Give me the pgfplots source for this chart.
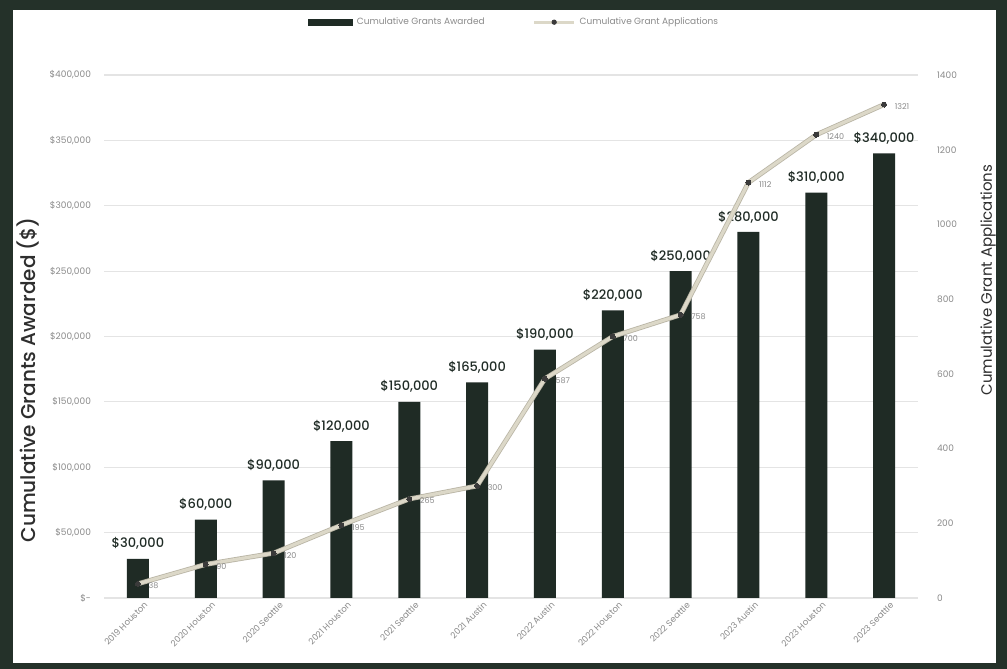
\documentclass[border=0pt]{standalone}
\usepackage{pgfplots}
\pgfplotsset{compat=1.18}
\usepackage{fontspec}
\setmainfont{Poppins}
\newfontfamily\medfont{Poppins}[UprightFont=* Medium]
\definecolor{barc}{HTML}{1F2B25}
\definecolor{framec}{HTML}{243129}
\definecolor{linec}{HTML}{DCD8C8}
\definecolor{lineedge}{HTML}{B9B5A5}
\definecolor{markc}{HTML}{3A3A3A}
\definecolor{tickc}{HTML}{8A8A8A}
\definecolor{gridc}{HTML}{E4E4E4}
\definecolor{titlec}{HTML}{2E2E2E}
\pgfplotsset{/pgf/number format/assume math mode=true}
\begin{document}
\begin{tikzpicture}[x=0.5pt,y=0.5pt]
\fill[framec] (0,0) rectangle (1007,669);
\fill[white] (13,6) rectangle (996,659);
\begin{axis}[
  at={(52pt,35.5pt)}, anchor=south west,
  scale only axis, width=407pt, height=261.5pt,
  xmin=-0.5, xmax=11.5, ymin=0, ymax=400000,
  axis x line*=bottom, axis y line*=left,
  x axis line style={draw=gridc, line width=0.6pt, -},
  y axis line style={draw=none},
  major tick length=0pt,
  xtick={0,...,11},
  xticklabels={2019 Houston,2020 Houston,2020 Seattle,2021 Houston,2021 Seattle,2021 Austin,2022 Austin,2022 Houston,2022 Seattle,2023 Austin,2023 Houston,2023 Seattle},
  xticklabel style={rotate=45, anchor=north east, font=\fontsize{4.3}{5}\selectfont, text=tickc, inner sep=1pt, xshift=2pt, yshift=-2pt},
  ytick={0,50000,100000,150000,200000,250000,300000,350000,400000},
  yticklabels={{\$-},{\$50,000},{\$100,000},{\$150,000},{\$200,000},{\$250,000},{\$300,000},{\$350,000},{\$400,000}},
  yticklabel style={font=\fontsize{4.5}{5}\selectfont, text=tickc, xshift=-3pt},
  scaled y ticks=false,
  ymajorgrids, grid style={draw=gridc, line width=0.6pt},
  ylabel={Cumulative Grants Awarded (\$)},
  ylabel style={at={(axis description cs:-0.0934,0.417)}, anchor=center, font=\medfont\fontsize{10}{12}\selectfont, text=titlec},
  ybar, bar width=11pt,
  nodes near coords={\$\pgfmathprintnumber[fixed,precision=0,1000 sep={,}]{\pgfplotspointmeta}},
  every node near coord/.append style={font=\medfont\fontsize{6.5}{7}\selectfont, text=barc, yshift=1pt},
]
\addplot[fill=barc, draw=none] coordinates {
(0,30000) (1,60000) (2,90000) (3,120000) (4,150000) (5,165000)
(6,190000) (7,220000) (8,250000) (9,280000) (10,310000) (11,340000)};
\end{axis}
\begin{axis}[
  at={(52pt,35.5pt)}, anchor=south west,
  scale only axis, width=407pt, height=261.5pt,
  xmin=-0.5, xmax=11.5, ymin=0, ymax=1400,
  /pgf/number format/1000 sep={},
  axis y line*=right, axis x line=none,
  y axis line style={draw=none},
  major tick length=0pt,
  ytick={0,200,400,600,800,1000,1200,1400},
  yticklabel style={font=\fontsize{4.5}{5}\selectfont, text=tickc, xshift=6pt},
  ylabel={Cumulative Grant Applications},
  ylabel style={at={(axis description cs:1.086,0.608)}, anchor=center, font=\fontsize{7.5}{9}\selectfont, text=titlec},
  legend style={at={(axis description cs:0.505,1.101)}, anchor=center, draw=none, fill=none,
    font=\fontsize{4.5}{5}\selectfont, text=tickc, legend columns=2,
    /tikz/every even column/.append style={column sep=22pt}},
  legend cell align=left,
]
\addlegendimage{legend image code/.code={\fill[barc] (0pt,-1.6pt) rectangle (22pt,1.6pt);}}
\addlegendentry{Cumulative Grants Awarded}
\addlegendimage{legend image code/.code={\draw[linec, line width=1.5pt] (0pt,0pt) -- (20pt,0pt); \fill[markc] (10pt,0pt) circle (1.1pt);}}
\addlegendentry{Cumulative Grant Applications}
\addplot[forget plot, draw=lineedge, line width=2.4pt] coordinates {
(0,38) (1,90) (2,120) (3,195) (4,265) (5,300) (6,587) (7,700) (8,758) (9,1112) (10,1240) (11,1321)};
\addplot[forget plot, draw=linec, line width=1.6pt, mark=*, mark size=1.25pt,
  mark options={fill=markc, draw=markc, line width=0pt},
  nodes near coords,
  every node near coord/.append style={anchor=west, font=\fontsize{4}{5}\selectfont, text=tickc, xshift=2pt, yshift=-1pt}] coordinates {
(0,38) (1,90) (2,120) (3,195) (4,265) (5,300) (6,587) (7,700) (8,758) (9,1112) (10,1240) (11,1321)};
\end{axis}
\end{tikzpicture}
\end{document}
